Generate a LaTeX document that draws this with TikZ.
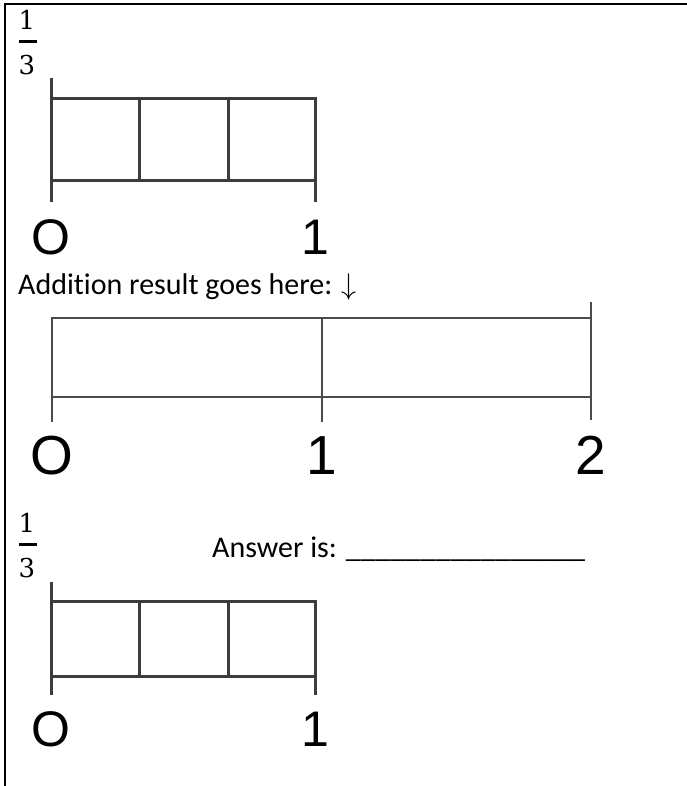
\RequirePackage{fix-cm}
\documentclass[tikz,border=0pt]{standalone}
\usepackage{fontspec}
\newfontfamily\calib[Ligatures=NoCommon]{Carlito}
\newfontfamily\arialf{Liberation Sans}
\newfontfamily\fracfont{DejaVu Serif}
\definecolor{linegray}{HTML}{3C3C3C}
\definecolor{linegraylt}{HTML}{4A4A4A}
\tikzset{
  numline/.style={draw=linegray, line width=3pt, line join=miter},
  numlinetwo/.style={draw=linegraylt, line width=2.5pt, line join=miter},
  lbl/.style={font=\arialf\fontsize{50}{50}\selectfont, inner sep=0pt, anchor=base},
  lblbig/.style={font=\arialf\fontsize{55}{55}\selectfont, inner sep=0pt, anchor=base},
  fracdigit/.style={font=\fracfont\fontsize{26}{26}\selectfont, inner sep=0pt, anchor=base},
  fracbar/.style={draw=black, line width=3pt},
  txt/.style={font=\calib\fontsize{30}{35}\selectfont, inner sep=0pt, anchor=base west},
  frame/.style={draw=black, line width=2pt}
}
\begin{document}
\begin{tikzpicture}[x=1pt,y=-1pt]
\useasboundingbox (0,0) rectangle (687,786);
% frame
\coordinate (fb) at (5,786);
\coordinate (ftl) at (5,4);
\coordinate (ftr) at (687,4);
\draw[frame] (fb) -- (ftl) -- (ftr);

% ---------- fraction 1 ----------
\node[fracdigit] (f1n) at (27,30) {1};
\coordinate (f1a) at (19,42);
\coordinate (f1b) at (37,42);
\draw[fracbar] (f1a) -- (f1b);
\node[fracdigit] (f1d) at (27,75) {3};

% ---------- number line 1 ----------
\coordinate (a0t) at (51,78);
\coordinate (a0u) at (51,99);
\coordinate (a0l) at (51,181);
\coordinate (a0b) at (51,202);
\coordinate (a1u) at (315,99);
\coordinate (a1l) at (315,181);
\coordinate (a1b) at (315,202);
\coordinate (ad1u) at (139,99);
\coordinate (ad1l) at (139,181);
\coordinate (ad2u) at (228,99);
\coordinate (ad2l) at (228,181);
\draw[numline] (a0t) -- (a0b);
\draw[numline] (a0u) -- (a1u) -- (a1b);
\draw[numline] (a0l) -- (a1l);
\draw[numline] (ad1u) -- (ad1l);
\draw[numline] (ad2u) -- (ad2l);
\node[lbl] (a0) at (51,254) {O};
\node[lbl] (a1) at (315,254) {1};

% ---------- text ----------
\node[txt] (addtxt) at (18,294) {Addition result goes here: \(\downarrow\)};

% ---------- number line 2 ----------
\coordinate (b0u) at (52,318);
\coordinate (b0l) at (52,397);
\coordinate (b0b) at (52,422);
\coordinate (b1u) at (322,318);
\coordinate (b1b) at (322,422);
\coordinate (b2t) at (591,302);
\coordinate (b2u) at (591,318);
\coordinate (b2l) at (591,397);
\coordinate (b2b) at (591,420);
\draw[numlinetwo] (b0b) -- (b0u) -- (b2u);
\draw[numlinetwo] (b0l) -- (b2l);
\draw[numlinetwo] (b1u) -- (b1b);
\draw[numlinetwo] (b2t) -- (b2b);
\node[lblbig] (b0) at (52,474) {O};
\node[lblbig] (b1) at (322,474) {1};
\node[lblbig] (b2) at (591,474) {2};

% ---------- fraction 2 ----------
\node[fracdigit] (f2n) at (27,532) {1};
\coordinate (f2a) at (19,544);
\coordinate (f2b) at (37,544);
\draw[fracbar] (f2a) -- (f2b);
\node[fracdigit] (f2d) at (27,577) {3};

\node[txt] (anstxt) at (212,557) {Answer is: \_\_\_\_\_\_\_\_\_\_\_\_\_\_\_\_};

% ---------- number line 3 ----------
\coordinate (c0t) at (51,582);
\coordinate (c0u) at (51,601);
\coordinate (c0l) at (51,676);
\coordinate (c0b) at (51,695);
\coordinate (c1u) at (315,601);
\coordinate (c1l) at (315,676);
\coordinate (c1b) at (315,695);
\coordinate (cd1u) at (139,601);
\coordinate (cd1l) at (139,676);
\coordinate (cd2u) at (228,601);
\coordinate (cd2l) at (228,676);
\draw[numline] (c0t) -- (c0b);
\draw[numline] (c0u) -- (c1u) -- (c1b);
\draw[numline] (c0l) -- (c1l);
\draw[numline] (cd1u) -- (cd1l);
\draw[numline] (cd2u) -- (cd2l);
\node[lbl] (c0) at (51,746) {O};
\node[lbl] (c1) at (315,746) {1};
\end{tikzpicture}
\end{document}
